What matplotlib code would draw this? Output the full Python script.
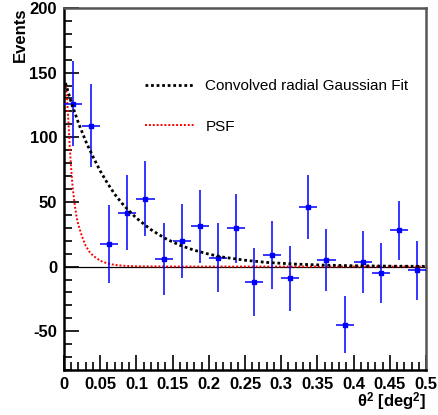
import matplotlib
matplotlib.use("Agg")
import matplotlib.pyplot as plt
from matplotlib.ticker import MultipleLocator

plt.rcParams['font.family'] = ['Liberation Sans', 'DejaVu Sans']
plt.rcParams['axes.unicode_minus'] = False
plt.rcParams['mathtext.fontset'] = 'custom'
plt.rcParams['mathtext.rm'] = 'Liberation Sans:bold'
plt.rcParams['mathtext.it'] = 'Liberation Serif'
plt.rcParams['mathtext.bf'] = 'Liberation Sans:bold'

# Binned theta^2 data
bin_centers = [0.0125, 0.0375, 0.0625, 0.0875, 0.1125, 0.1375, 0.1625, 0.1875, 0.2125, 0.2375,
               0.2625, 0.2875, 0.3125, 0.3375, 0.3625, 0.3875, 0.4125, 0.4375, 0.4625, 0.4875]
bin_halfwidth = 0.0125
events = [126, 109, 17.5, 41.5, 52.5, 6, 20, 31, 7, 29.5,
          -12, 9, -9, 46, 5, -45, 3.5, -5, 28, -3]
event_errors = [33, 32, 30, 29, 29, 28, 28.5, 28, 27, 27,
                26, 26, 25, 25, 24, 22, 24, 23, 23, 23]

# Convolved radial Gaussian fit
fit_x = [0.002, 0.01, 0.02, 0.03, 0.04, 0.05, 0.06, 0.07, 0.08, 0.09, 0.10, 0.12, 0.14,
         0.16, 0.18, 0.20, 0.22, 0.25, 0.28, 0.32, 0.36, 0.40, 0.45, 0.50]
fit_y = [142, 127, 111, 97, 85, 74, 64.5, 56, 49, 43, 37.5, 28.6, 21.7,
         16.5, 12.6, 9.6, 7.3, 4.9, 3.2, 1.9, 1.1, 0.63, 0.32, 0.16]

# PSF curve
psf_x = [0.0, 0.002, 0.004, 0.006, 0.008, 0.010, 0.012, 0.015, 0.0175, 0.02, 0.025, 0.03,
         0.035, 0.04, 0.05, 0.06, 0.07, 0.08, 0.10, 0.15, 0.5]
psf_y = [145, 141, 132, 113, 92, 75, 61, 47, 38, 32, 23, 16,
         11.5, 8.5, 4.5, 2.4, 1.3, 0.7, 0.2, 0.02, 0.0]

fig = plt.figure(figsize=(4.38, 4.15), dpi=100)
ax = fig.add_axes([64/438, 1-370/415, (426-64)/438, (370-8)/415])

ax.axhline(0, color='black', lw=0.9, zorder=1)

ax.errorbar(bin_centers, events, yerr=event_errors, xerr=bin_halfwidth, fmt='s',
            color='#0000ff', ecolor='#0000ff', ms=3.2, elinewidth=1.1, capsize=0, zorder=3)

ax.plot(psf_x, psf_y, color='#ff0000', lw=1.4, linestyle=(0, (1, 1)), zorder=2,
        label='PSF')
ax.plot(fit_x, fit_y, color='black', lw=2.0, linestyle=(0, (1, 1)), zorder=4,
        label='Convolved radial Gaussian Fit')

ax.set_xlim(0, 0.5)
ax.set_ylim(-80, 200)

ax.xaxis.set_major_locator(MultipleLocator(0.05))
ax.xaxis.set_minor_locator(MultipleLocator(0.01))
ax.yaxis.set_major_locator(MultipleLocator(50))
ax.yaxis.set_minor_locator(MultipleLocator(10))
ax.tick_params(which='both', direction='in', top=False, right=False, width=1.2)
ax.tick_params(which='major', length=11, labelsize=12, pad=5)
ax.tick_params(which='minor', length=6)
ax.set_xticks([0, 0.05, 0.1, 0.15, 0.2, 0.25, 0.3, 0.35, 0.4, 0.45, 0.5])
ax.set_xticklabels(['0', '0.05', '0.1', '0.15', '0.2', '0.25', '0.3', '0.35', '0.4', '0.45', '0.5'])
for lab in ax.get_xticklabels() + ax.get_yticklabels():
    lab.set_fontweight('bold')

for side in ['left', 'bottom']:
    ax.spines[side].set_linewidth(1.8)
    ax.spines[side].set_color('black')
for side in ['top', 'right']:
    ax.spines[side].set_linewidth(1.8)
    ax.spines[side].set_color('#555555')

ax.set_ylabel('Events', fontsize=12, fontweight='bold')
ax.yaxis.set_label_coords(-0.1, 1.0)
ax.yaxis.label.set_horizontalalignment('right')

ax.set_xlabel('θ$^{2}$ [deg$^{2}$]', fontsize=12, fontweight='bold')
ax.xaxis.set_label_coords(1.0, -0.058)
ax.xaxis.label.set_horizontalalignment('right')

handles, labels = ax.get_legend_handles_labels()
leg = ax.legend(handles[::-1], labels[::-1], frameon=False, fontsize=11,
                loc='upper left', bbox_to_anchor=(145/438, 1-79/415),
                bbox_transform=fig.transFigure, handlelength=3.3, handletextpad=0.65,
                labelspacing=1.75, borderpad=0, borderaxespad=0)

fig.savefig('out.png', dpi=100)
